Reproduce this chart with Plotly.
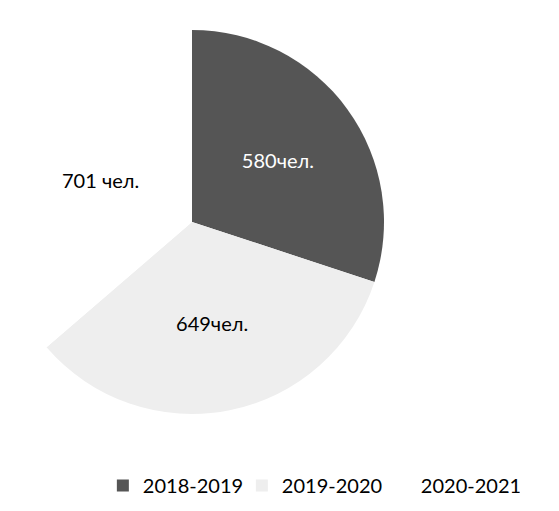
import plotly.graph_objects as go

years = ["2018-2019", "2019-2020", "2020-2021"]
students = [580, 649, 701]
label_texts = ["580чел.", "649чел.", "701 чел."]
colors = ["#555555", "#eeeeee", "#ffffff"]
text_colors = ["#ffffff", "#000000", "#000000"]

W, H = 559, 511
cx, cy, r = 192, 222, 192

fig = go.Figure(go.Pie(
    labels=years,
    values=students,
    text=label_texts,
    textinfo="text",
    textposition="inside",
    insidetextorientation="horizontal",
    textfont=dict(family="Lato", size=20, color=text_colors),
    marker=dict(colors=colors, line=dict(width=0)),
    sort=False,
    direction="clockwise",
    rotation=0,
    hoverinfo="label+value",
    domain=dict(x=[(cx - r) / W, (cx + r) / W],
                y=[(H - cy - r) / H, (H - cy + r) / H]),
))

fig.update_layout(
    width=W, height=H,
    margin=dict(l=0, r=0, t=0, b=0),
    paper_bgcolor="white",
    plot_bgcolor="white",
    showlegend=True,
    legend=dict(orientation="h", x=0.184, xanchor="left", y=0.05, yanchor="middle",
                entrywidth=94, entrywidthmode="pixels",
                font=dict(family="Lato", size=20, color="#000000")),
    uniformtext=dict(minsize=10),
)

fig.write_html("out.html", config={"displayModeBar": False},
               post_script="document.body.style.margin='0';")
